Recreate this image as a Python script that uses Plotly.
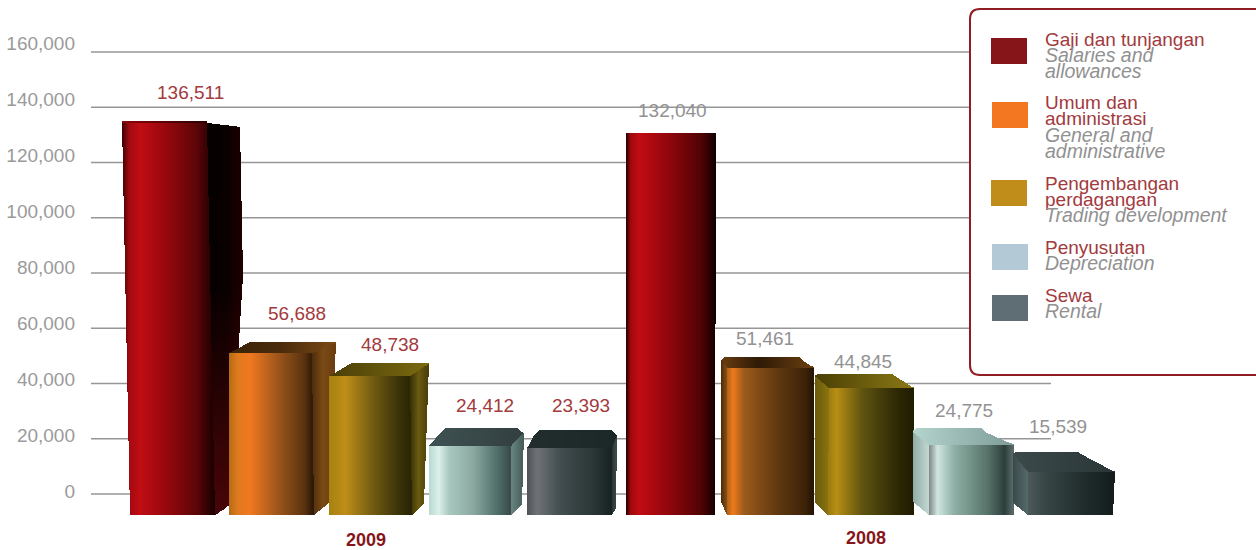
import plotly.graph_objects as go

# ---------- data ----------
YEARS = ["2009", "2008"]
SERIES_ID = [["Gaji dan tunjangan"], ["Umum dan", "administrasi"], ["Pengembangan", "perdagangan"], ["Penyusutan"], ["Sewa"]]
SERIES_EN = [["Salaries and", "allowances"], ["General and", "administrative"], ["Trading development"], ["Depreciation"], ["Rental"]]
VALUES_2009 = [136511, 56688, 48738, 24412, 23393]
VALUES_2008 = [132040, 51461, 44845, 24775, 15539]
Y_TICKS = [0, 20000, 40000, 60000, 80000, 100000, 120000, 140000, 160000]
SWATCH_COLORS = ["#86151a", "#f37721", "#c08d1b", "#b3c9d6", "#5f6d74"]

# ---------- layout constants ----------
W, H = 1256, 550
PLOT_L, PLOT_R, GRID_END = 91, 1256, 1051
Y0_PX, Y160_PX = 494.0, 52.0
UNIT = 160000 / (Y0_PX - Y160_PX)          # value units per pixel
BASE_PX = 515


def v_at(px):
    return (Y0_PX - px) * UNIT


def paper_x(px):
    return (px - PLOT_L) / (PLOT_R - PLOT_L)


def paper_y(px):
    return 1 - px / H


RED, GREY = "#a23a3e", "#929292"

# per-bar drawing geometry, px: gap under value, front-top depth, front edges, back edges, side foot
GEOM = [
    dict(drop=4, depth=2, cut=0, front=(123, 207, 131, 215), back=(124, 206), side="R",
         outline=[(240, 6), (243, 275), (229, 505)], lab=(190, 93),
         fade=(290, 505, (70, 5, 8))),
    dict(drop=5, depth=11, cut=0, front=(230, 312, 230, 314), back=(250, 336), side="R",
         outline=[(336, 0), (329, 503)], lab=(297, 313)),
    dict(drop=4, depth=13, cut=0, front=(330, 410, 330, 412), back=(352, 429), side="R",
         outline=[(429, 0), (424, 503)], lab=(390, 344)),
    dict(drop=1.5, depth=18, cut=5, front=(430, 511, 430, 511), back=(441, 523), side="R",
         outline=[(524, 4), (522, 505)], lab=(485, 405)),
    dict(drop=1, depth=18, cut=5, front=(528, 612, 528, 612), back=(535, 617), side="R",
         outline=[(617, 4), (616, 508)], lab=(581, 405)),
    dict(drop=4, depth=0, cut=0, front=(627, 716, 627, 715), back=(627, 716), side=None,
         outline=[], lab=(672, 111)),
    dict(drop=5, depth=11, cut=3, front=(728, 814, 728, 814), back=(723, 802), side="L",
         outline=[(722, 2), (722, 502)], lab=(765, 338)),
    dict(drop=4, depth=14, cut=2, front=(830, 914, 829, 914), back=(816, 895), side="L",
         outline=[(816, 1), (816, 502)], lab=(863, 361)),
    dict(drop=2.4, depth=17, cut=4, front=(930, 1014, 930, 1014), back=(914, 985), side="L",
         outline=[(914, 2), (914, 502)], lab=(964, 410)),
    dict(drop=1, depth=20, cut=2, front=(1029, 1115, 1029, 1113), back=(1014, 1081), side="L",
         outline=[(1014, 1), (1014, 503)], lab=(1058, 426)),
]

# colour stops (fraction across the face, colour)
SHADES = [
    dict(front=[(0, "#3d0205"), (.08, "#a20a10"), (.2, "#c00d13"), (.55, "#8a070c"), (.82, "#5a0508"), (1, "#1a0000")],
         top=[(0, "#8a060b"), (1, "#2a0002")], side=[(0, "#050000"), (.6, "#0a0000"), (1, "#1f0000")]),
    dict(front=[(0, "#b56a16"), (.1, "#dd7a1e"), (.25, "#f07820"), (.6, "#98541a"), (.9, "#5a3210"), (1, "#2a1806")],
         top=[(0, "#3a2208"), (.5, "#4a2c0c"), (1, "#7a4a14")], side=[(0, "#4a2a0c"), (.5, "#7a4a15"), (1, "#6a3c10")]),
    dict(front=[(0, "#a5820f"), (.2, "#bf8d18"), (.55, "#6e5a10"), (.85, "#3a3208"), (1, "#2a2404")],
         top=[(0, "#4a3e08"), (1, "#7a6a10")], side=[(0, "#2e2a06"), (.5, "#6a5a10"), (1, "#4a3f0a")]),
    dict(front=[(0, "#b8d8d0"), (.12, "#dcf0ea"), (.25, "#a8c8bf"), (.55, "#8aa8a0"), (.85, "#4f6d69"), (1, "#3a4c4a")],
         top=[(0, "#3f5253"), (1, "#333f40")], side=[(0, "#6d8a85"), (1, "#465c5a")]),
    dict(front=[(0, "#4d5254"), (.12, "#6f7276"), (.4, "#414d4e"), (.8, "#2a3535"), (1, "#182222")],
         top=[(0, "#222e2e"), (1, "#1c2828")], side=[(0, "#222e2e"), (1, "#3c4a4a")]),
    dict(front=[(0, "#200002"), (.05, "#9e080e"), (.15, "#c20c13"), (.5, "#8c060b"), (.85, "#500305"), (1, "#120000")],
         top=[(0, "#8a060b"), (1, "#300003")], side=[(0, "#000000"), (1, "#000000")]),
    dict(front=[(0, "#a96218"), (.07, "#ee7a1c"), (.2, "#9a5a1c"), (.6, "#5f3710"), (.9, "#3e2308"), (1, "#241404")],
         top=[(0, "#6a3c10"), (.4, "#2e1a06"), (1, "#6a3e10")], side=[(0, "#4a2a0c"), (1, "#8a5012")]),
    dict(front=[(0, "#9a7a10"), (.1, "#b88e14"), (.4, "#5f5410"), (.8, "#2e2a05"), (1, "#201c02")],
         top=[(0, "#4a3f05"), (1, "#8a7815")], side=[(0, "#6a5a0c"), (1, "#8a7510")]),
    dict(front=[(0, "#7c8886"), (.1, "#d0e5df"), (.3, "#8fb0a6"), (.7, "#567269"), (.9, "#2e3e3c"), (1, "#5a6a68")],
         top=[(0, "#b4d4ce"), (1, "#7f9c98")], side=[(0, "#90aca6"), (1, "#c5d8d2")]),
    dict(front=[(0, "#4c5a5c"), (.2, "#394646"), (.7, "#1e2a2a"), (1, "#141c1c")],
         top=[(0, "#3c4a4c"), (1, "#2a3636")], side=[(0, "#3a4a4a"), (1, "#55686a")]),
]


def mix(stops, t):
    t = min(max(t, 0), 1)
    for (a, ca), (b, cb) in zip(stops, stops[1:]):
        if t <= b:
            f = (t - a) / (b - a) if b > a else 0
            pa = [int(ca[i:i + 2], 16) for i in (1, 3, 5)]
            pb = [int(cb[i:i + 2], 16) for i in (1, 3, 5)]
            return tuple(p + (q - p) * f for p, q in zip(pa, pb))
    c = stops[-1][1]
    return tuple(int(c[i:i + 2], 16) for i in (1, 3, 5))


def rgb(c):
    return "rgb({},{},{})".format(*[round(v) for v in c])


def scan(poly, stops, fade=None):
    """Cut a face outline into 1px columns; returns bar centres, bases, lengths, colours."""
    xs, bases, lens, cols = [], [], [], []
    x0 = min(p[0] for p in poly)
    x1 = max(p[0] for p in poly)
    x = int(x0) + 0.5
    n = len(poly)
    while x < x1:
        hits = []
        for i in range(n):
            (ax, ay), (bx, by) = poly[i], poly[(i + 1) % n]
            if ax != bx and min(ax, bx) <= x <= max(ax, bx):
                hits.append(ay + (by - ay) * (x - ax) / (bx - ax))
        if len(hits) >= 2:
            lo, hi = min(hits), max(hits)          # px: lo is upper
            col = mix(stops, (x - x0) / (x1 - x0))
            if fade is None:
                xs.append(x); bases.append(v_at(hi)); lens.append((hi - lo) * UNIT); cols.append(rgb(col))
            else:
                fa, fb, fc = fade
                y = lo
                while y < hi:
                    e = min(y + 6, hi)
                    f = min(max(((y + e) / 2 - fa) / (fb - fa), 0), 1)
                    xs.append(x); bases.append(v_at(e + 0.3)); lens.append((e + 0.3 - y) * UNIT)
                    cols.append(rgb(tuple(p + (q - p) * f for p, q in zip(col, fc))))
                    y = e
        x += 1
    return xs, bases, lens, cols


VALUES = VALUES_2009 + VALUES_2008
fig = go.Figure()

# the columns themselves, one trace per series, from the values
for s in range(5):
    idx = [s, s + 5]
    cx, wd = [], []
    for i in idx:
        g = GEOM[i]
        f = g["front"]
        l, r = max(f[0], f[2], g["back"][0]), min(f[1], f[3], g["back"][1])
        cx.append((l + r) / 2)
        wd.append(r - l)
    fig.add_trace(go.Bar(
        x=cx, width=wd,
        y=[VALUES[i] - (GEOM[i]["drop"] + GEOM[i]["cut"]) * UNIT - v_at(BASE_PX) for i in idx],
        base=v_at(BASE_PX), marker=dict(color=SWATCH_COLORS[s], line_width=0),
        name=" ".join(SERIES_ID[s]), cliponaxis=False, hoverinfo="skip", showlegend=False))

# shaded faces over them, in drawing order
for i, (val, g, sh) in enumerate(zip(VALUES, GEOM, SHADES)):
    bt = Y0_PX - val / UNIT + g["drop"]
    ft = bt + g["depth"]
    ftl, ftr, fbl, fbr = g["front"]
    cut = g["cut"]
    faces = []
    if g["side"] == "R":
        pts = [(ftr, ft)]
        for px, py in g["outline"]:
            pts.append((px, bt + py) if py < 50 else (px, py))
        pts.append((fbr, BASE_PX))
        faces.append((pts, sh["side"], g.get("fade")))
    elif g["side"] == "L":
        pts = [(ftl, ft), (fbl, BASE_PX)]
        for px, py in reversed(g["outline"]):
            pts.append((px, bt + py) if py < 50 else (px, py))
        faces.append((pts, sh["side"], None))
    if g["depth"] > 0:
        bl, br = g["back"]
        if cut:
            top_poly = [(bl + cut, bt), (br - cut, bt), (br, bt + cut), (ftr, ft), (ftl, ft), (bl, bt + cut)]
        else:
            top_poly = [(bl, bt), (br, bt), (ftr, ft), (ftl, ft)]
        faces.append((top_poly, sh["top"], None))
    faces.append(([(ftl, ft), (ftr, ft), (fbr, BASE_PX), (fbl, BASE_PX)], sh["front"], None))
    X, B, L, C = [], [], [], []
    for poly, stops, fade in faces:
        a, b, c, d = scan(poly, stops, fade)
        X += a; B += b; L += c; C += d
    fig.add_trace(go.Bar(x=X, y=L, base=B, width=1.15, marker=dict(color=C, line_width=0),
                         cliponaxis=False, hoverinfo="skip", showlegend=False))

# carries the tick labels, which sit on a slightly different spacing than the grid
fig.add_trace(go.Scatter(x=[PLOT_L], y=[0], yaxis="y2", mode="markers", marker=dict(opacity=0),
                         hoverinfo="skip", showlegend=False))

annotations = []


def text(px, py, s, color, size=19, xanchor="center", italic=False, bold=False):
    if italic:
        s = "<i>" + s + "</i>"
    if bold:
        s = "<b>" + s + "</b>"
    annotations.append(dict(xref="paper", yref="paper", x=paper_x(px), y=paper_y(py), text=s,
                            showarrow=False, xanchor=xanchor, yanchor="middle",
                            font=dict(family="Liberation Sans", size=size, color=color)))


for i, (val, g) in enumerate(zip(VALUES, GEOM)):
    text(g["lab"][0], g["lab"][1], f"{val:,}", RED if i < 5 else GREY)

text(366, 539.5, YEARS[0], "#86151a", size=18, bold=True)
text(866, 538, YEARS[1], "#86151a", size=18, bold=True)

# grid lines at the ticks: they stop short of the right-hand side while the last bars reach past them
shapes = [dict(type="line", xref="paper", yref="y", x0=0, x1=paper_x(GRID_END), y0=t, y1=t,
               line=dict(color="#969696", width=1.5), layer="below") for t in Y_TICKS]

# legend panel
pl, pt, pr, pb, rad = paper_x(970), paper_y(9), paper_x(1290), paper_y(375), 10
rx, ry = rad / (PLOT_R - PLOT_L), rad / H
path = (f"M {pl} {pt - ry} Q {pl} {pt} {pl + rx} {pt} L {pr} {pt} L {pr} {pb} L {pl + rx} {pb} "
        f"Q {pl} {pb} {pl} {pb + ry} Z")
shapes.append(dict(type="path", xref="paper", yref="paper", path=path, fillcolor="#ffffff",
                   line=dict(color="#8f1d22", width=2), layer="above"))

SW_BOX = [(991, 38), (992, 102), (991, 180), (992, 244), (992, 295)]
for (sx, sy), col in zip(SW_BOX, SWATCH_COLORS):
    shapes.append(dict(type="rect", xref="paper", yref="paper", x0=paper_x(sx), x1=paper_x(sx + 36),
                       y0=paper_y(sy), y1=paper_y(sy + 26), fillcolor=col, line_width=0, layer="above"))

LEG_Y = [39, 103, 183, 247, 295]
for y0, ids, ens in zip(LEG_Y, SERIES_ID, SERIES_EN):
    y = y0
    for t in ids:
        text(1043, y, t, RED, size=19, xanchor="left")
        y += 16
    for t in ens:
        text(1043, y, t, "#919191", size=19.5, xanchor="left", italic=True)
        y += 16

fig.update_layout(
    width=W, height=H, margin=dict(l=PLOT_L, r=W - PLOT_R, t=0, b=0),
    paper_bgcolor="white", plot_bgcolor="white", barmode="overlay", bargap=0,
    showlegend=False, shapes=shapes, annotations=annotations,
    xaxis=dict(range=[PLOT_L, PLOT_R], visible=False),
    yaxis=dict(range=[v_at(H), v_at(0)], tickvals=Y_TICKS, showticklabels=False, ticks="",
               showgrid=False, zeroline=False, showline=False),
    yaxis2=dict(overlaying="y", side="left", range=[(491 - H) * 1000 / 2.8, 491 * 1000 / 2.8],
                tickvals=Y_TICKS, tickformat=",d", showgrid=False, zeroline=False, showline=False,
                ticks="", ticklabelstandoff=15,
                tickfont=dict(family="Liberation Sans", size=19, color="#9a9a9a")),
)

fig.write_html("out.html", config={"displayModeBar": False},
               post_script="document.body.style.margin='0';document.body.style.overflow='hidden';")
